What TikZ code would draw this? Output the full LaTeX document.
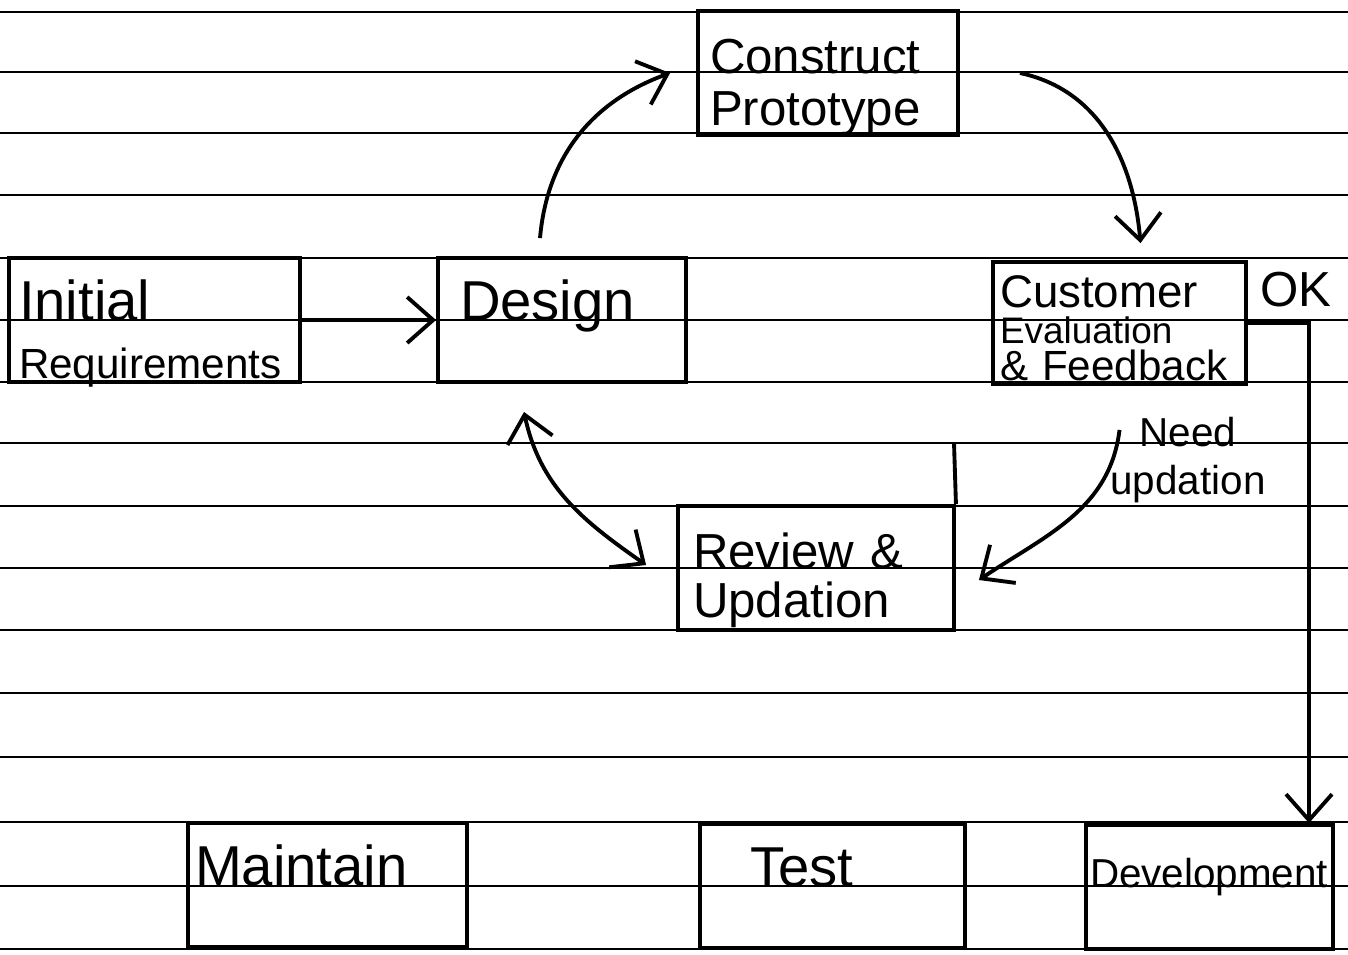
\documentclass[tikz,border=0pt]{standalone}
\usepackage{fontspec}
\setmainfont{Liberation Sans}
\usetikzlibrary{arrows.meta}

\begin{document}
\begin{tikzpicture}[x=0.1mm, y=-0.1mm,
	rule/.style={draw=black, line width=0.8pt},
	stub/.style={draw=black, line width=1.1pt},
	box/.style={draw=black, line width=1.1pt, inner sep=0pt, align=left, text height=6.2mm, text depth=6.2mm},
	flow/.style={draw=black, line width=1.1pt, >={Straight Barb[length=2.6mm, width=4.6mm]}, ->},
	lbl/.style={inner sep=0pt, align=center}]
	\useasboundingbox (0,0) rectangle (1348,954);
	% ruled paper
	\foreach \y in {12,72,133,195,258,320,382,443,506,568,630,693,757,822,886,949}
		\draw[rule] (0,\y) -- (1348,\y);

	\node[box, minimum width=26mm, text width=23.6mm, font=\fontsize{14}{15}\selectfont] (construct) at (828,73) {Construct\\Prototype};
	\node[box, minimum width=29.1mm, text width=27.1mm, font=\fontsize{12}{16.5}\selectfont] (initial) at (154.5,320) {{\fontsize{16}{16.5}\selectfont Initial}\\Requirements};
	\node[box, minimum width=24.8mm, text width=20.4mm, font=\fontsize{16}{18}\selectfont] (design) at (562,320) {Design};
	\node[box, minimum width=25.3mm, text width=23.9mm, text height=4.5mm, text depth=7.7mm, font=\fontsize{12}{10.5}\selectfont] (cust) at (1119.5,323) {{\fontsize{13}{10.5}\selectfont Customer}\\{\fontsize{10.5}{10.5}\selectfont Evaluation}\\\& Feedback};
	\node[box, minimum width=27.6mm, text width=24.6mm, font=\fontsize{14}{14}\selectfont] (review) at (816,568) {Review \&\\Updation};
	\node[box, minimum width=27.9mm, text width=26.5mm, font=\fontsize{16}{18}\selectfont] (maintain) at (327.5,885) {Maintain};
	\node[box, minimum width=26.5mm, text width=16.5mm, font=\fontsize{16}{18}\selectfont] (test) at (832.5,886) {Test};
	\node[box, minimum width=24.7mm, text width=23.9mm, font=\fontsize{11.5}{14}\selectfont] (dev) at (1209.5,887) {Development};

	\node[lbl, font=\fontsize{14}{14}\selectfont] (ok) at (1296,290) {OK};
	\node[lbl, font=\fontsize{11.5}{13.5}\selectfont] (need) at (1188,460) {Need\\updation};

	\coordinate (okturn) at (1309,323);
	\coordinate (revtop) at (954,443);

	\draw[stub] (review.north east) -- (revtop);
	\draw[flow] (initial) -- (design);
	\draw[flow] ([xshift=-2.2mm, yshift=1.8mm]design.north) to[out=85, in=200] ([xshift=-2.6mm]construct.west);
	\draw[flow] ([xshift=6mm]construct.east) to[out=-12, in=95] ([xshift=2.1mm, yshift=1.7mm]cust.north);
	\draw[flow] ([yshift=-4.4mm]cust.south) to[out=-97, in=34] ([xshift=2.3mm, yshift=-1.2mm]review.east);
	\draw[flow, <->] ([xshift=-3.8mm, yshift=-2.8mm]design.south) to[out=-78, in=145] ([xshift=-3mm, yshift=0.3mm]review.west);
	\draw[flow] (cust.east) -- (okturn) -- (okturn |- dev.north);
\end{tikzpicture}
\end{document}
